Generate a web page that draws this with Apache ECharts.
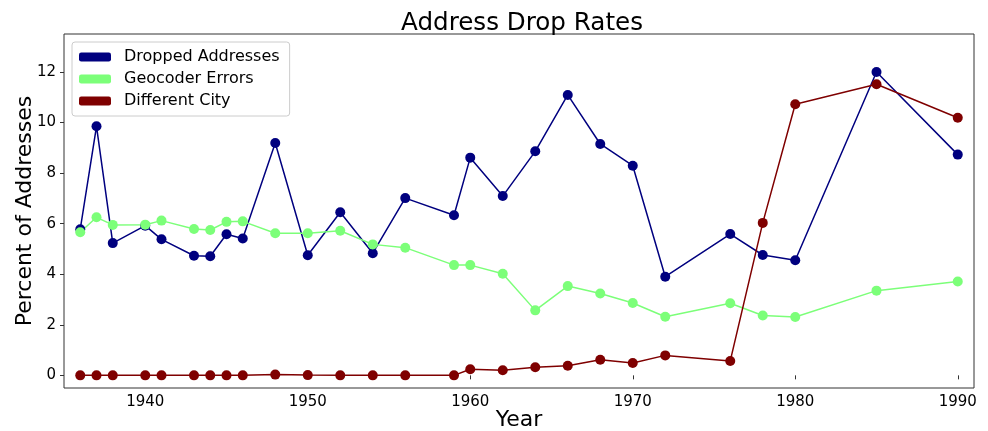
<!DOCTYPE html>
<html lang="en">
<head>
    <meta charset="UTF-8">
    <title>Address Drop Rates</title>
    <script src="https://cdn.jsdelivr.net/npm/echarts@6/dist/echarts.min.js"></script>
    <style>
        html, body { margin: 0; padding: 0; background: #fff; }
        #main { width: 988px; height: 431px; }
    </style>
</head>
<body>
<div id="main"></div>
<script>
    var years = [1936, 1937, 1938, 1940, 1941, 1943, 1944, 1945, 1946, 1948, 1950, 1952, 1954,
        1956, 1959, 1960, 1962, 1964, 1966, 1968, 1970, 1972, 1976, 1978, 1980, 1985, 1990];
    var dropped = [5.78, 9.85, 5.23, 5.92, 5.38, 4.73, 4.71, 5.58, 5.41, 9.19, 4.75, 6.45, 4.83,
        7.01, 6.33, 8.61, 7.09, 8.86, 11.09, 9.15, 8.29, 3.90, 5.59, 4.76, 4.55, 12.0, 8.73];
    var geocoder = [5.66, 6.25, 5.95, 5.96, 6.12, 5.79, 5.75, 6.07, 6.09, 5.62, 5.62, 5.72, 5.18,
        5.05, 4.36, 4.36, 4.02, 2.57, 3.53, 3.24, 2.86, 2.32, 2.85, 2.37, 2.31, 3.35, 3.71];
    var diffCity = [0.0, 0.0, 0.0, 0.0, 0.0, 0.0, 0.0, 0.0, 0.0, 0.03, 0.01, 0.0, 0.0,
        0.0, 0.0, 0.24, 0.20, 0.32, 0.38, 0.62, 0.49, 0.79, 0.57, 6.03, 10.72, 11.51, 10.19];
    var xTicks = [1940, 1950, 1960, 1970, 1980, 1990];
    var yTicks = [0, 2, 4, 6, 8, 10, 12];

    function pairs(vals) {
        return years.map(function (y, i) { return [y, vals[i]]; });
    }

    function line(name, vals, color) {
        return {
            name: name,
            type: 'line',
            data: pairs(vals),
            symbol: 'circle',
            symbolSize: 10,
            showSymbol: true,
            lineStyle: {color: color, width: 1.5},
            itemStyle: {color: color},
            emphasis: {disabled: true},
            animation: false
        };
    }

    var font = 'DejaVu Sans';
    var myChart = echarts.init(document.getElementById('main'));
    var option = {
        backgroundColor: '#fff',
        textStyle: {fontFamily: font},
        title: {
            text: 'Address Drop Rates',
            left: 517,
            textAlign: 'center',
            top: 6,
            textStyle: {fontFamily: font, fontSize: 24.6, fontWeight: 'normal', color: '#000'}
        },
        legend: {
            left: 72,
            top: 42,
            orient: 'vertical',
            itemGap: 6,
            itemWidth: 32,
            itemHeight: 9,
            icon: 'roundRect',
            padding: [7, 10, 7, 7],
            backgroundColor: '#fff',
            borderColor: '#ccc',
            borderWidth: 1,
            borderRadius: 3,
            textStyle: {fontFamily: font, fontSize: 16, color: '#000', padding: [0, 0, 0, 8]},
            data: ['Dropped Addresses', 'Geocoder Errors', 'Different City']
        },
        grid: {
            left: 64, right: 14, top: 34, bottom: 43,
            containLabel: false,
            outerBoundsMode: 'none',
            show: true, borderColor: '#333', borderWidth: 1, backgroundColor: 'transparent'
        },
        xAxis: {
            type: 'value',
            min: 1935,
            max: 1991,
            name: 'Year',
            nameLocation: 'middle',
            nameGap: 21,
            nameMoveOverlap: false,
            nameTextStyle: {fontFamily: font, fontSize: 22, color: '#000'},
            axisLine: {show: false},
            splitLine: {show: false},
            axisTick: {show: true, length: 4, customValues: xTicks, lineStyle: {color: '#333'}},
            axisLabel: {
                customValues: xTicks, fontSize: 15, color: '#000', margin: 7,
                formatter: function (v) { return String(v); }
            }
        },
        yAxis: {
            type: 'value',
            min: -0.5,
            max: 13.5,
            name: 'Percent of Addresses',
            nameLocation: 'middle',
            nameGap: 28,
            nameMoveOverlap: false,
            nameTextStyle: {fontFamily: font, fontSize: 22, color: '#000'},
            axisLine: {show: false},
            splitLine: {show: false},
            axisTick: {show: true, length: 4, customValues: yTicks, lineStyle: {color: '#333'}},
            axisLabel: {customValues: yTicks, fontSize: 15, color: '#000', margin: 8}
        },
        series: [
            line('Dropped Addresses', dropped, '#00007f'),
            line('Geocoder Errors', geocoder, '#7cff79'),
            line('Different City', diffCity, '#7f0000')
        ]
    };
    myChart.setOption(option);
</script>
</body>
</html>
